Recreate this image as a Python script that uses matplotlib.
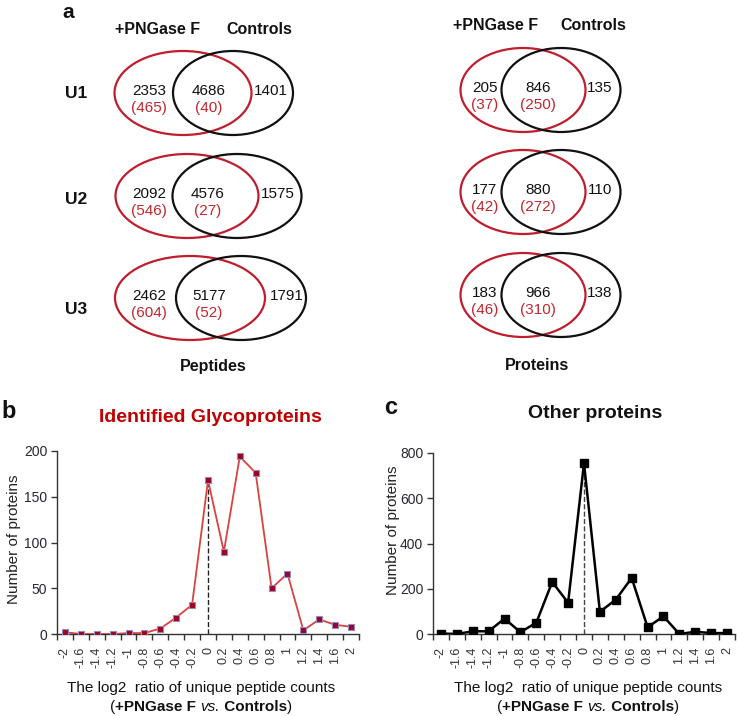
import matplotlib
matplotlib.use("Agg")
import matplotlib.pyplot as plt
from matplotlib.patches import Ellipse
from matplotlib.ticker import FixedLocator

plt.rcParams['font.family'] = ['Liberation Sans', 'DejaVu Sans']

# ---------------- data ----------------
samples = ['U1', 'U2', 'U3']
pep_pngase_only = [2353, 2092, 2462]
pep_pngase_only_glyco = [465, 546, 604]
pep_shared = [4686, 4576, 5177]
pep_shared_glyco = [40, 27, 52]
pep_controls_only = [1401, 1575, 1791]

prot_pngase_only = [205, 177, 183]
prot_pngase_only_glyco = [37, 42, 46]
prot_shared = [846, 880, 966]
prot_shared_glyco = [250, 272, 310]
prot_controls_only = [135, 110, 138]

ratio_labels = ['-2', '-1.6', '-1.4', '-1.2', '-1', '-0.8', '-0.6', '-0.4', '-0.2',
                '0', '0.2', '0.4', '0.6', '0.8', '1', '1.2', '1.4', '1.6', '2']
glyco_counts = [2, 0, 0, 0, 1, 1, 6, 18, 32, 168, 90, 194, 176, 50, 66, 4, 16, 10, 8]
other_counts = [2, 0, 12, 12, 68, 8, 50, 230, 138, 755, 98, 152, 248, 30, 78, 0, 10, 4, 4]

RED = '#be1e2d'
TRED = '#c0272d'
BLK = '#111111'
FS_NUM = 11

W, H = 737, 716
fig = plt.figure(figsize=(W / 100, H / 100), dpi=100)
ax0 = fig.add_axes([0, 0, 1, 1])
ax0.set_xlim(0, W)
ax0.set_ylim(H, 0)
ax0.axis('off')

# ---------------- Venn diagrams ----------------
def venn(ax, rows, red_geo, blk_geo, txt_x):
    for i, (cy, (a, ag, b, bg, c)) in enumerate(rows):
        rcx, rw = red_geo[i]
        bcx, bw = blk_geo[i]
        ax.add_patch(Ellipse((rcx, cy), rw, 84, fill=False, ec=RED, lw=1.6))
        ax.add_patch(Ellipse((bcx, cy), bw, 84, fill=False, ec=BLK, lw=1.6))
        x1, x2, x3 = txt_x[i]
        ax.text(x1, cy - 2, str(a), ha='center', va='center', fontsize=FS_NUM, color=BLK)
        ax.text(x1, cy + 15, f'({ag})', ha='center', va='center', fontsize=FS_NUM, color=TRED)
        ax.text(x2, cy - 2, str(b), ha='center', va='center', fontsize=FS_NUM, color=BLK)
        ax.text(x2, cy + 15, f'({bg})', ha='center', va='center', fontsize=FS_NUM, color=TRED)
        ax.text(x3, cy - 2, str(c), ha='center', va='center', fontsize=FS_NUM, color=BLK)

pep_y = [93, 196, 298]
pep_rows = list(zip(pep_y, zip(pep_pngase_only, pep_pngase_only_glyco, pep_shared,
                               pep_shared_glyco, pep_controls_only)))
venn(ax0, pep_rows,
     [(183, 137), (187, 143), (190, 150)],
     [(233, 120), (237, 129), (241, 130)],
     [(149, 209, 271), (149, 208, 278), (149, 209, 287)])

prot_y = [90, 192, 295]
prot_rows = list(zip(prot_y, zip(prot_pngase_only, prot_pngase_only_glyco, prot_shared,
                                 prot_shared_glyco, prot_controls_only)))
venn(ax0, prot_rows,
     [(523, 125), (523, 125), (523, 125)],
     [(561, 119), (561, 119), (561, 119)],
     [(485, 538, 600)] * 3)

for s, y in zip(samples, [93, 200, 309]):
    ax0.text(76, y, s, ha='center', va='center', fontsize=12.5, fontweight='bold', color=BLK)

FS_HEAD = 11.5
ax0.text(158, 29, '+PNGase F', ha='center', va='center', fontsize=FS_HEAD, fontweight='bold', color=BLK)
ax0.text(259, 29, 'Controls', ha='center', va='center', fontsize=FS_HEAD, fontweight='bold', color=BLK)
ax0.text(496, 26, '+PNGase F', ha='center', va='center', fontsize=FS_HEAD, fontweight='bold', color=BLK)
ax0.text(593, 26, 'Controls', ha='center', va='center', fontsize=FS_HEAD, fontweight='bold', color=BLK)
ax0.text(213, 366, 'Peptides', ha='center', va='center', fontsize=FS_HEAD, fontweight='bold', color=BLK)
ax0.text(537, 366, 'Proteins', ha='center', va='center', fontsize=FS_HEAD, fontweight='bold', color=BLK)

ax0.text(68, 3, 'a', ha='center', va='top', fontsize=15, fontweight='bold', color=BLK)
ax0.text(9, 412, 'b', ha='center', va='center', fontsize=17, fontweight='bold', color=BLK)
ax0.text(391, 407, 'c', ha='center', va='center', fontsize=17, fontweight='bold', color=BLK)

ax0.text(210, 417, 'Identified Glycoproteins', ha='center', va='center', fontsize=14,
         fontweight='bold', color='#c00000')
ax0.text(595, 414, 'Other proteins', ha='center', va='center', fontsize=14,
         fontweight='bold', color=BLK)

# ---------------- line charts ----------------
def px_axes(left, top, width, height):
    return fig.add_axes([left / W, (H - top - height) / H, width / W, height / H])

def style(ax, ymax, ystep):
    n = len(ratio_labels)
    ax.set_xlim(-0.5, n - 0.5)
    ax.set_ylim(0, ymax)
    for sp in ['top', 'right']:
        ax.spines[sp].set_visible(False)
    for sp in ['left', 'bottom']:
        ax.spines[sp].set_linewidth(1.0)
        ax.spines[sp].set_color('#333333')
    ax.set_xticks(range(n))
    ax.set_xticklabels(ratio_labels, rotation=90, fontsize=9, color='#333333')
    ax.xaxis.set_minor_locator(FixedLocator([i - 0.5 for i in range(n + 1)]))
    ax.tick_params(axis='x', which='major', length=0, pad=9)
    ax.tick_params(axis='x', which='minor', length=4, width=1.0, color='#333333', direction='out')
    ax.set_yticks(range(0, ymax + 1, ystep))
    ax.tick_params(axis='y', length=4, width=1.0, color='#333333', labelsize=10,
                   labelcolor='#262636', pad=3)
    ax.set_ylabel('Number of proteins', fontsize=11, color='#222222')
    ax.patch.set_alpha(0)

n = len(ratio_labels)
zero_idx = ratio_labels.index('0')

axb = px_axes(57, 451, 302, 183)
axb.plot(range(n), glyco_counts, color='#d9423f', lw=1.3, marker='s', markersize=4.8,
         markerfacecolor='#a0001e', markeredgecolor='#8c8cc8', markeredgewidth=0.8, zorder=3)
axb.plot([zero_idx, zero_idx], [0, glyco_counts[zero_idx]], ls='--', color='#222222', lw=1.0, zorder=2)
style(axb, 200, 50)
axb.yaxis.set_label_coords(-0.118, 0.52)

axc = px_axes(433, 453, 302, 181)
axc.plot(range(n), other_counts, color='#000000', lw=1.8, marker='s', markersize=5.5,
         markerfacecolor='#000000', markeredgecolor='#000000', zorder=3)
axc.plot([zero_idx, zero_idx], [0, other_counts[zero_idx]], ls='--', color='#444444', lw=1.0, zorder=2)
style(axc, 800, 200)
axc.yaxis.set_label_coords(-0.11, 0.575)

# ---------------- x-axis titles (mixed styles) ----------------
def rich_line(x_center, y, pieces, fs=11):
    fig.canvas.draw()
    r = fig.canvas.get_renderer()
    texts = []
    for s, w, st in pieces:
        t = ax0.text(0, y, s, ha='left', va='center', fontsize=fs, fontweight=w,
                     fontstyle=st, color='#111111')
        texts.append(t)
    widths = [t.get_window_extent(r).width for t in texts]
    total = sum(widths)
    x = x_center - total / 2
    for t, wdt in zip(texts, widths):
        t.set_x(x)
        x += wdt

for xc in (201, 588):
    ax0.text(xc, 688, 'The log2  ratio of unique peptide counts', ha='center', va='center',
             fontsize=11, color='#111111')
    rich_line(xc, 707, [('(', 'normal', 'normal'), ('+PNGase F ', 'bold', 'normal'),
                        ('vs.', 'normal', 'italic'), (' Controls', 'bold', 'normal'),
                        (')', 'normal', 'normal')])

fig.savefig('out.png', dpi=100)
